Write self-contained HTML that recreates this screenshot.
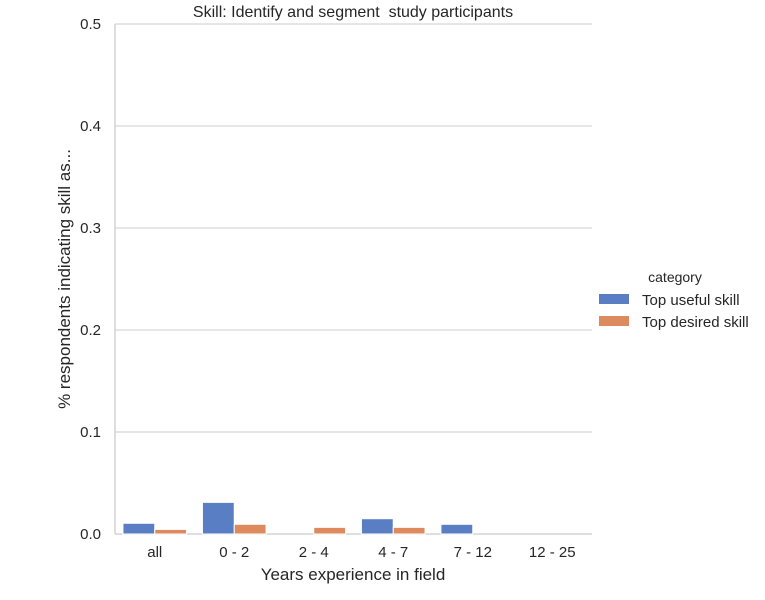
<!DOCTYPE html>
<html><head><meta charset="utf-8"><style>
body{margin:0;background:#fff;font-family:"Liberation Sans",sans-serif}
text{white-space:pre}
</style></head><body>
<svg id="chart" width="765" height="600" style="display:block" font-family="Liberation Sans, sans-serif">
</svg>
<script>
const categories=["all","0 - 2","2 - 4","4 - 7","7 - 12","12 - 25"];
const usefulValues=[0.0105,0.031,0,0.015,0.0095,0];
const desiredValues=[0.0045,0.0095,0.0065,0.0065,0,0];
const yTicks=[0,0.1,0.2,0.3,0.4,0.5];
const yTickLabels=["0.0","0.1","0.2","0.3","0.4","0.5"];
const seriesNames=["Top useful skill","Top desired skill"];
const colors=["#5a7ec4","#dd8a5f"];
const NS="http://www.w3.org/2000/svg";
const svg=document.getElementById('chart');
const X0=115,X1=592,Y0=534,Y1=24;
const y=v=>Y0-(v/0.5)*(Y0-Y1);
const bw=(X1-X0)/categories.length;
const x=i=>X0+i*bw;
function mk(t,a,txt){const e=document.createElementNS(NS,t);for(const k in a)e.setAttribute(k,a[k]);if(txt!==undefined)e.textContent=txt;svg.appendChild(e);return e;}
yTicks.forEach((t,i)=>{
 const g=mk('line',{x1:X0,x2:X1,y1:y(t),y2:y(t),stroke:'#cccccc','stroke-width':1});
 
 
 const l=mk('text',{x:X0-14,y:y(t)+5,'text-anchor':'end','font-size':15,fill:'#262626'},yTickLabels[i]);
 
 
});
const ax=mk('line',{x1:X0,x2:X0,y1:Y1,y2:Y0,stroke:'#cccccc','stroke-width':1.3});


const ax2=mk('line',{x1:X0,x2:X1,y1:Y0,y2:Y0,stroke:'#cccccc','stroke-width':1.3});


const w=bw*0.4;
categories.forEach((c,i)=>{
 [usefulValues,desiredValues].forEach((vals,s)=>{
  const v=vals[i];
  const r=mk('rect',{x:x(i)+bw*0.1+s*w,y:y(v),width:w,height:Y0-y(v),fill:colors[s],stroke:'#fff','stroke-width':1});
  
  
 });
 const t=mk('text',{x:x(i)+bw/2,y:557,'text-anchor':'middle','font-size':15,fill:'#262626'},c);
 
 
});
const tt=mk('text',{x:353,y:17,'text-anchor':'middle','font-size':16,fill:'#262626'},'Skill: Identify and segment  study participants');


const xt=mk('text',{x:353,y:580,'text-anchor':'middle','font-size':17,fill:'#262626'},'Years experience in field');


const yt=mk('text',{x:0,y:0,'text-anchor':'middle','font-size':17,fill:'#262626',transform:'translate(70,279) rotate(-90)'},'% respondents indicating skill as...');


const lt=mk('text',{x:675,y:282,'text-anchor':'middle','font-size':14,fill:'#262626'},'category');


seriesNames.forEach((n,s)=>{
 const r=mk('rect',{x:599,y:294+s*22,width:30,height:10,fill:colors[s]});
 
 
 const t=mk('text',{x:642,y:305+s*22,'font-size':15,fill:'#262626'},n);
 
 
});
</script>
</body></html>
